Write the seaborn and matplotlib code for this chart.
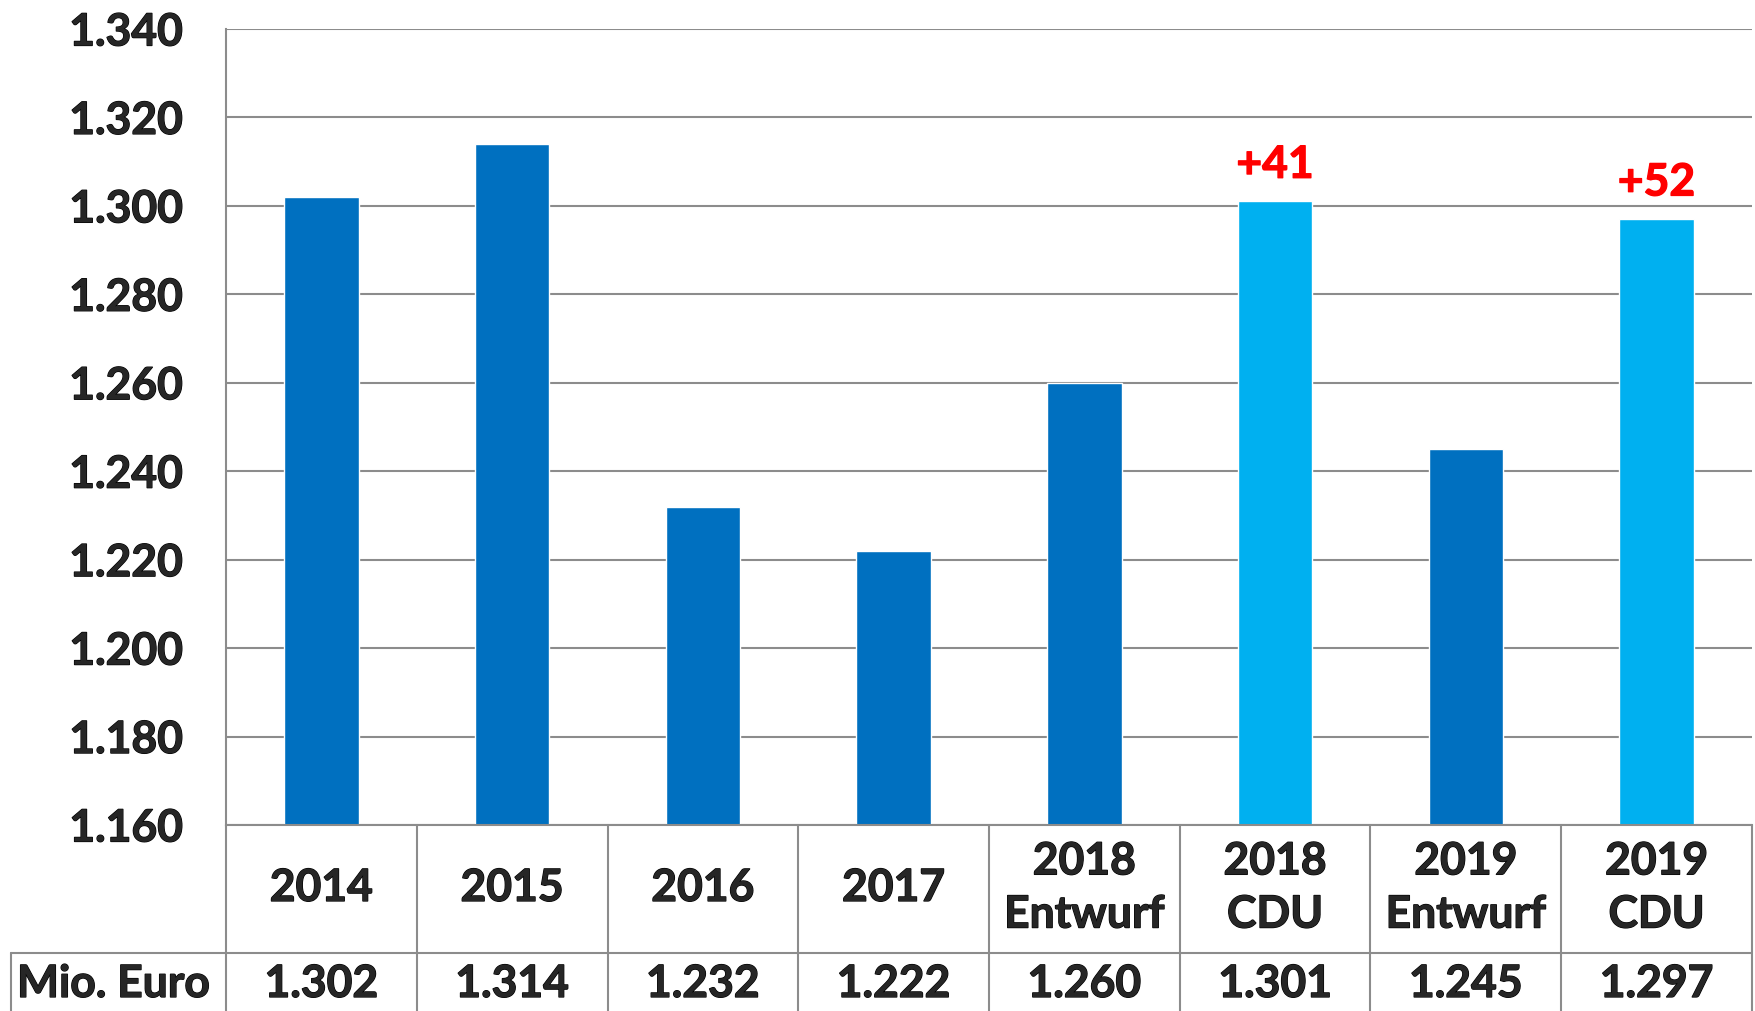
import matplotlib
matplotlib.use("Agg")
import matplotlib.pyplot as plt
import matplotlib.patheffects as pe
import matplotlib.transforms as mtransforms
from matplotlib.ticker import FuncFormatter, MultipleLocator
import pandas as pd
import seaborn as sns

# values in Mio. Euro
categories = ["2014", "2015", "2016", "2017", "2018\nEntwurf", "2018\nCDU", "2019\nEntwurf", "2019\nCDU"]
values = [1302, 1314, 1232, 1222, 1260, 1301, 1245, 1297]
kind = ["Ist", "Ist", "Ist", "Ist", "Entwurf", "CDU", "Entwurf", "CDU"]
row_label = "Mio. Euro"
y_min, y_max, y_step = 1160, 1340, 20

palette = {"Ist": "#0070C0", "Entwurf": "#0070C0", "CDU": "#00B0F0"}
grid_color = "#8C8C8C"
WEIGHT = "bold"

sns.set_theme(style="white")
plt.rcParams["font.family"] = ["Lato", "DejaVu Sans"]

df = pd.DataFrame({"Kategorie": categories, "Wert": values, "Art": kind})


def de_thousands(v, _pos=None):
    return f"{int(round(v)):,}".replace(",", ".")


def heavy(color="black"):
    # Lato only comes in bold here, thicken the strokes a little
    return [pe.withStroke(linewidth=0.9, foreground=color)]


fig = plt.figure(figsize=(17.56, 10.11), dpi=100)
W, H = 1756, 1011
left, right, top, bottom = 226, 1752, 29, 825
ax = fig.add_axes([left / W, 1 - bottom / H, (right - left) / W, (bottom - top) / H])

sns.barplot(data=df, x="Kategorie", y="Wert", hue="Art", palette=palette,
            width=0.39, dodge=False, legend=False, saturation=1, ax=ax)

ax.set_ylim(y_min, y_max)
ax.set_xlim(-0.5, len(categories) - 0.5)
ax.yaxis.set_major_locator(MultipleLocator(y_step))
ax.yaxis.set_major_formatter(FuncFormatter(de_thousands))
ax.grid(axis="y", color=grid_color, linewidth=1.5, zorder=0)
ax.set_axisbelow(True)
ax.tick_params(axis="y", length=0, pad=31, labelsize=32)
ax.tick_params(axis="x", length=0, labelbottom=False)
for lbl in ax.get_yticklabels():
    lbl.set_fontweight(WEIGHT)
    lbl.set_path_effects(heavy())
ax.set_xlabel("")
ax.set_ylabel("")
for side in ["top", "right"]:
    ax.spines[side].set_visible(False)
for side in ["left", "bottom"]:
    ax.spines[side].set_color(grid_color)
    ax.spines[side].set_linewidth(1.5)

# red difference labels above CDU bars (CDU minus Entwurf)
for i, k in enumerate(kind):
    if k == "CDU":
        diff = values[i] - values[i - 1]
        ax.annotate(f"+{diff}", (i, values[i]), xytext=(0, 12), textcoords="offset points",
                    ha="center", va="bottom", color="#FF0000", fontsize=32, fontweight=WEIGHT,
                    path_effects=heavy("#FF0000"))

# table below the axis
row1 = (bottom - 953) / (bottom - top)
row_bot = (bottom - 1020) / (bottom - top)
blend = mtransforms.blended_transform_factory(ax.transData, ax.transAxes)
line_kw = dict(color=grid_color, linewidth=1.5, clip_on=False)

for i in range(len(categories) + 1):
    ax.plot([i - 0.5, i - 0.5], [0, row_bot], transform=blend, **line_kw)
cell_left = (11 - left) / (right - left)
ax.plot([cell_left, 1], [row1, row1], transform=ax.transAxes, **line_kw)
ax.plot([cell_left, cell_left], [row1, row_bot], transform=ax.transAxes, **line_kw)

header_y = (bottom - 888) / (bottom - top)
value_y = (bottom - 984) / (bottom - top)
for i, (cat, v) in enumerate(zip(categories, values)):
    ax.text(i, header_y, cat, transform=blend, ha="center", va="center",
            fontsize=32, fontweight=WEIGHT, linespacing=1.4, path_effects=heavy())
    ax.text(i, value_y, de_thousands(v), transform=blend, ha="center", va="center",
            fontsize=32, fontweight=WEIGHT, path_effects=heavy())
ax.text((17 - left) / (right - left), value_y, row_label, transform=ax.transAxes,
        ha="left", va="center", fontsize=32, fontweight=WEIGHT, path_effects=heavy())

fig.savefig("out.png", dpi=100)
